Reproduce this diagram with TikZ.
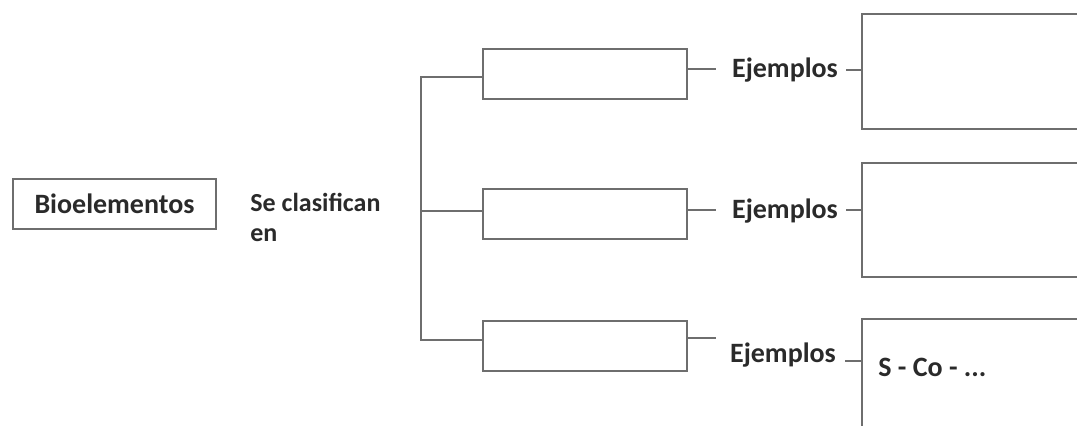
\documentclass[tikz,border=0pt]{standalone}
\usepackage{fontspec}
\setmainfont{Carlito}
\definecolor{linegray}{HTML}{6E6E6E}
\definecolor{textgray}{HTML}{2A2A2A}
\tikzset{
  box/.style={draw=linegray, line width=1pt, inner sep=0pt, anchor=north west, fill=white},
  label/.style={text=textgray, font=\bfseries\fontsize{14}{15}\selectfont, inner sep=0pt},
  link/.style={draw=linegray, line width=1pt}
}
\begin{document}
\begin{tikzpicture}[x=0.5pt, y=-0.5pt]
\useasboundingbox (0,0) rectangle (1077,426);
\clip (0,0) rectangle (1077,426);

% main concept
\node[box, minimum width=101.5pt, minimum height=25pt] (bio) at (12,178) {};
\node[label] (bioText) at (bio.center) {Bioelementos};
\node[label, anchor=north west, align=left,
      font=\bfseries\fontsize{13}{15}\selectfont] (sc) at (250,193) {Se clasifican\\en};

% category boxes
\node[box, minimum width=102pt, minimum height=25pt] (m1) at (482,48) {};
\node[box, minimum width=102pt, minimum height=25pt] (m2) at (482,188) {};
\node[box, minimum width=102pt, minimum height=25pt] (m3) at (482,320) {};

% bracket joining the categories
\coordinate (tTop) at (421,77);
\coordinate (tMid) at (421,211);
\coordinate (tBot) at (421,340);
\draw[link] (m1.west |- tTop) -- (tTop) -- (tBot) -- (m3.west |- tBot);
\draw[link] (tMid) -- (m2.west |- tMid);

% example boxes (run past the right edge)
\node[box, minimum width=170pt, minimum height=57.5pt] (r1) at (861,13) {};
\node[box, minimum width=170pt, minimum height=57pt] (r2) at (861,162) {};
\node[box, minimum width=170pt, minimum height=82pt] (r3) at (861,318) {};
\node[label, anchor=west] (sco) at (878,367) {S - Co - ...};

% "Ejemplos" labels
\node[label] (e1) at (785,70) {Ejemplos};
\node[label] (e2) at (785,211) {Ejemplos};
\node[label] (e3) at (783,355) {Ejemplos};

\coordinate (s1) at (716,69);
\coordinate (s2) at (716,210);
\coordinate (s3) at (716,338);
\draw[link] (m1.east |- s1) -- (s1);
\draw[link] (m2.east |- s2) -- (s2);
\draw[link] (m3.east |- s3) -- (s3);

\coordinate (d1) at (846,70);
\coordinate (d2) at (846,210);
\coordinate (d3) at (845,361);
\draw[link] (d1) -- (r1.west |- d1);
\draw[link] (d2) -- (r2.west |- d2);
\draw[link] (d3) -- (r3.west |- d3);
\end{tikzpicture}
\end{document}
